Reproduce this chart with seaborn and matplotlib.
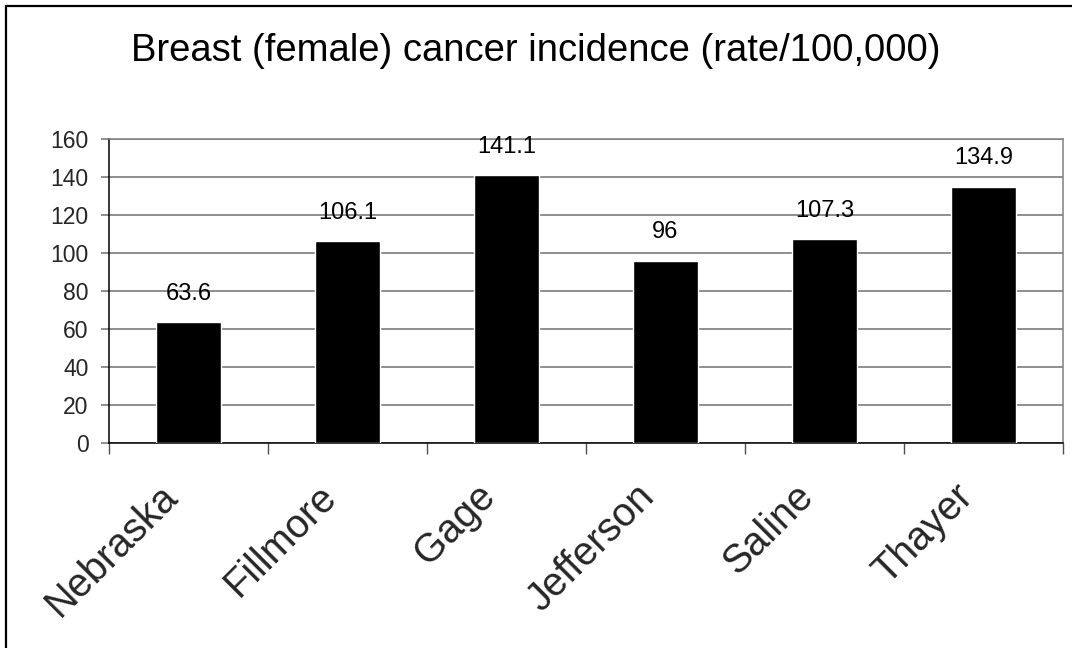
import numpy as np
import pandas as pd
import seaborn as sns
import matplotlib.pyplot as plt
from matplotlib.patches import Rectangle
from matplotlib.transforms import ScaledTranslation

# chart data
counties = ["Nebraska", "Fillmore", "Gage", "Jefferson", "Saline", "Thayer"]
rates = [63.6, 106.1, 141.1, 96, 107.3, 134.9]
rate_labels = ["63.6", "106.1", "141.1", "96", "107.3", "134.9"]
yticks = [0, 20, 40, 60, 80, 100, 120, 140, 160]

sns.set_theme(style="white")
plt.rcParams['font.family'] = ['Liberation Sans', 'DejaVu Sans']

df = pd.DataFrame({"county": counties, "rate": rates})

fig = plt.figure(figsize=(10.72, 6.48), dpi=100)
ax = fig.add_axes([109 / 1072, 205 / 648, 954 / 1072, 304 / 648])

sns.barplot(data=df, x="county", y="rate", color="black", width=0.41,
            saturation=1, ax=ax, zorder=3)

ax.set_ylim(0, 160)
ax.set_xlim(-0.5, len(counties) - 0.5)
ax.set_yticks(yticks)
ax.set_yticklabels([str(t) for t in yticks], fontsize=16.5)
ax.yaxis.grid(True, color="#707070", lw=1.1, zorder=0)
ax.set_axisbelow(True)
ax.tick_params(axis="y", length=6, width=1.1, color="#707070", pad=8.6, left=True)

# category labels rotated, boundary ticks on x axis
ax.set_xticks(range(len(counties)))
ax.set_xticklabels(counties, rotation=45, ha="right", va="center",
                   rotation_mode="anchor", fontsize=28.5)
ax.tick_params(axis="x", length=0, pad=34)
shift = ScaledTranslation(-17 / 100, 0, fig.dpi_scale_trans)
for lab in ax.get_xticklabels():
    lab.set_transform(lab.get_transform() + shift)
ax.set_xticks(np.arange(-0.5, len(counties), 1), minor=True)
ax.tick_params(axis="x", which="minor", length=8, width=1, color="#505050", bottom=True)
ax.set_xlabel("")
ax.set_ylabel("")

for s in ["left", "bottom"]:
    ax.spines[s].set_color("black")
    ax.spines[s].set_linewidth(1.1)
for s in ["top", "right"]:
    ax.spines[s].set_color("#808080")
    ax.spines[s].set_linewidth(1.1)

for i, (v, lab) in enumerate(zip(rates, rate_labels)):
    ax.annotate(lab, (i, v), xytext=(0, 16), textcoords="offset points",
                ha="center", va="baseline", fontsize=17, color="black")

fig.text(0.5, 587 / 648, "Breast (female) cancer incidence (rate/100,000)",
         ha="center", va="baseline", fontsize=27.5, color="black")

# outer chart border
fig.patches.append(Rectangle((6 / 1072, -0.01), 1.1, 1 - 6 / 648 + 0.01,
                             transform=fig.transFigure, fill=False,
                             edgecolor="black", lw=1.6))

fig.savefig("out.png", dpi=100)
